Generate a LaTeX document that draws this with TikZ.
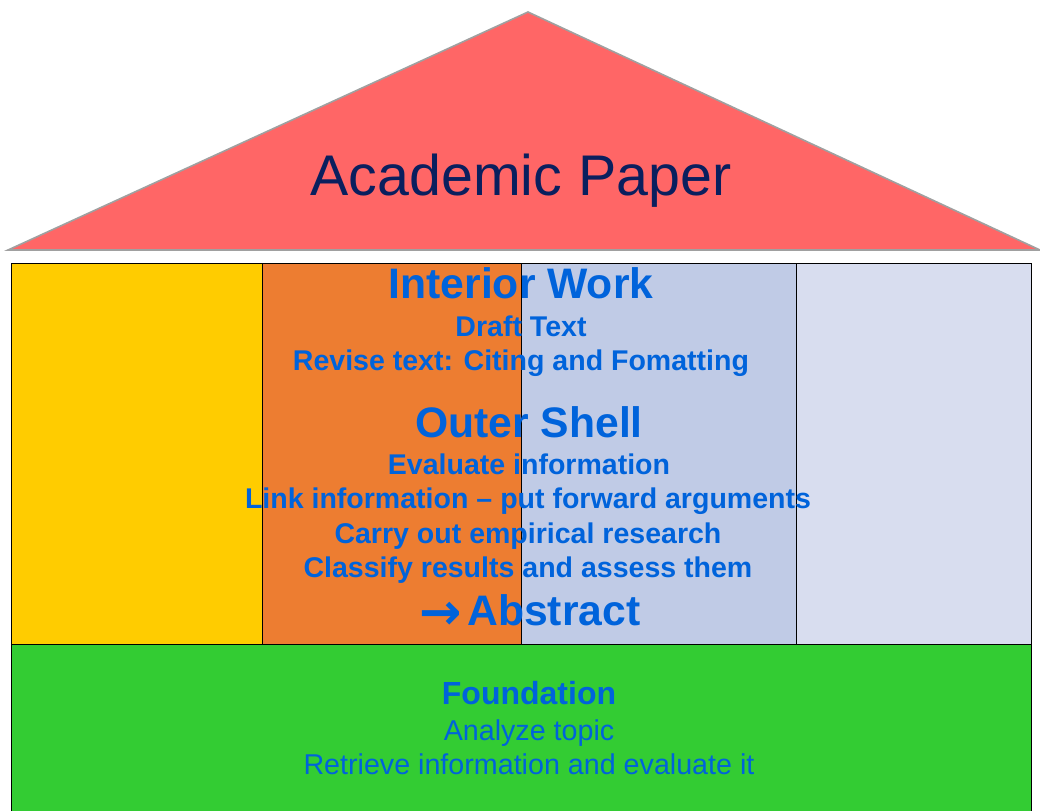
\documentclass[tikz,border=0pt]{standalone}
\usepackage{fontspec}
\setmainfont{Liberation Sans}
\newfontfamily\arrowfont{DejaVu Sans}
\definecolor{roofred}{HTML}{FF6666}
\definecolor{roofline}{HTML}{A0A0A0}
\definecolor{navy}{HTML}{0A1F5E}
\definecolor{ayellow}{HTML}{FFCC00}
\definecolor{aorange}{HTML}{ED7D31}
\definecolor{ablue}{HTML}{C0CBE6}
\definecolor{alight}{HTML}{D8DDEF}
\definecolor{agreen}{HTML}{33CC33}
\definecolor{tblue}{HTML}{0063DB}
\tikzset{
  wall/.style={draw=black, line width=0.6pt},
  bigt/.style={anchor=base, text=tblue, font=\fontsize{32}{36}\selectfont\bfseries, inner sep=0pt},
  midt/.style={anchor=base, text=tblue, font=\fontsize{21.4}{24}\selectfont\bfseries, inner sep=0pt},
  regt/.style={anchor=base, text=tblue, font=\fontsize{21.5}{24}\selectfont, inner sep=0pt},
}
\begin{document}
\begin{tikzpicture}[x=0.75pt,y=-0.75pt]
\useasboundingbox (0,0) rectangle (1040,811);
% roof
\fill[roofred, draw=roofline, line width=1.2pt] (528,12) -- (1040,250) -- (8,250) -- cycle;
\node[anchor=base, text=navy, font=\fontsize{43}{48}\selectfont, inner sep=0pt] (title) at (521,195) {Academic Paper};
% walls
\filldraw[wall, fill=ayellow] (11,263) rectangle (262,644);
\filldraw[wall, fill=aorange] (262,263) rectangle (521,644);
\filldraw[wall, fill=ablue] (521,263) rectangle (796,644);
\filldraw[wall, fill=alight] (796,263) rectangle (1031,644);
% foundation
\filldraw[wall, fill=agreen] (11,644) -- (1031,644) -- (1031,812) -- (11,812) -- cycle;
% interior text
\node[bigt] (iw) at (521,298) {Interior Work};
\node[midt] (dt) at (521,336) {Draft Text};
\node[midt] (rt) at (521,370) {Revise text: Citing and Fomatting};
% outer shell
\node[bigt] (os) at (529,437) {Outer Shell};
\node[midt] (ev) at (529,474) {Evaluate information};
\node[midt] (li) at (528,508) {Link information – put forward arguments};
\node[midt] (ca) at (528,543) {Carry out empirical research};
\node[midt] (cl) at (528,577) {Classify results and assess them};
\node[bigt] (ab) at (530,625) {{\arrowfont\bfseries\fontsize{38}{40}\selectfont\raisebox{-3pt}{→}}\hspace{4pt}Abstract};
% foundation text
\node[anchor=base, text=tblue, font=\fontsize{24}{28}\selectfont\bfseries, inner sep=0pt] (fo) at (529,704) {Foundation};
\node[regt] (an) at (529,740) {Analyze topic};
\node[regt] (re) at (529,774) {Retrieve information and evaluate it};
\end{tikzpicture}
\end{document}
